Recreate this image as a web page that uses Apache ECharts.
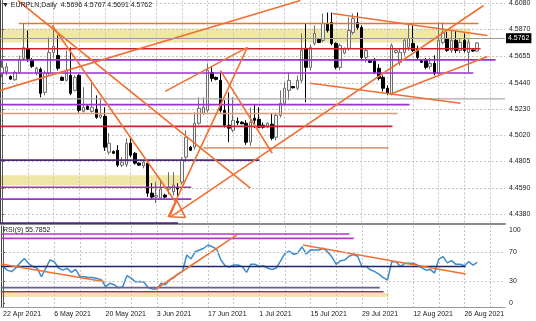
<!DOCTYPE html>
<html><head><meta charset="utf-8">
<script src="https://cdn.jsdelivr.net/npm/echarts@6/dist/echarts.min.js"></script>
<style>html,body{margin:0;padding:0;background:#fff}#c{width:536px;height:321px}</style>
</head><body><div id="c"></div><script>
// ---------------- DATA ----------------
const dates = [
'22 Apr 2021','23 Apr 2021',
'25 Apr 2021','26 Apr 2021','27 Apr 2021','28 Apr 2021','29 Apr 2021','30 Apr 2021',
'2 May 2021','3 May 2021','4 May 2021','5 May 2021','6 May 2021','7 May 2021',
'9 May 2021','10 May 2021','11 May 2021','12 May 2021','13 May 2021','14 May 2021',
'16 May 2021','17 May 2021','18 May 2021','19 May 2021','20 May 2021','21 May 2021',
'23 May 2021','24 May 2021','25 May 2021','26 May 2021','27 May 2021','28 May 2021',
'30 May 2021','31 May 2021','1 Jun 2021','2 Jun 2021','3 Jun 2021','4 Jun 2021',
'6 Jun 2021','7 Jun 2021','8 Jun 2021','9 Jun 2021','10 Jun 2021','11 Jun 2021',
'13 Jun 2021','14 Jun 2021','15 Jun 2021','16 Jun 2021','17 Jun 2021','18 Jun 2021',
'20 Jun 2021','21 Jun 2021','22 Jun 2021','23 Jun 2021','24 Jun 2021','25 Jun 2021',
'27 Jun 2021','28 Jun 2021','29 Jun 2021','30 Jun 2021','1 Jul 2021','2 Jul 2021',
'4 Jul 2021','5 Jul 2021','6 Jul 2021','7 Jul 2021','8 Jul 2021','9 Jul 2021',
'11 Jul 2021','12 Jul 2021','13 Jul 2021','14 Jul 2021','15 Jul 2021','16 Jul 2021',
'18 Jul 2021','19 Jul 2021','20 Jul 2021','21 Jul 2021','22 Jul 2021','23 Jul 2021',
'25 Jul 2021','26 Jul 2021','27 Jul 2021','28 Jul 2021','29 Jul 2021','30 Jul 2021',
'1 Aug 2021','2 Aug 2021','3 Aug 2021','4 Aug 2021','5 Aug 2021','6 Aug 2021',
'8 Aug 2021','9 Aug 2021','10 Aug 2021','11 Aug 2021','12 Aug 2021','13 Aug 2021',
'15 Aug 2021','16 Aug 2021','17 Aug 2021','18 Aug 2021','19 Aug 2021','20 Aug 2021',
'22 Aug 2021','23 Aug 2021','24 Aug 2021','25 Aug 2021','26 Aug 2021','27 Aug 2021',
'29 Aug 2021','30 Aug 2021','31 Aug 2021','1 Sep 2021','2 Sep 2021','3 Sep 2021',
'5 Sep 2021','6 Sep 2021'];

const open = [4.5516,4.5530,4.5492,4.5465,4.5524,4.5637,4.5718,4.5621,4.5516,4.5549,
4.5363,4.5516,4.5685,4.5661,4.5484,4.5460,4.5500,4.5379,4.5500,4.5210,
4.5251,4.5210,4.5227,4.5162,4.5170,4.4880,4.4885,4.4896,4.4776,4.4780,
4.4953,4.4872,4.4792,4.4770,4.4790,4.4550,4.4518,4.4510,4.4534,4.4583,
4.4560,4.4599,4.4639,4.4840,4.4921,4.4921,4.5114,4.5194,4.5218,4.5524,
4.5484,4.5460,4.5218,4.5098,4.5057,4.5130,4.5122,4.5114,4.4961,4.5154,
4.5146,4.5098,4.5082,4.5106,4.5001,4.5178,4.5275,4.5379,4.5410,4.5396,
4.5460,4.5718,4.5565,4.5758,4.5790,4.5782,4.5919,4.5927,4.5758,4.5565,
4.5680,4.5718,4.5846,4.5927,4.5887,4.5645,4.5621,4.5621,4.5557,4.5484,
4.5396,4.5355,4.5685,4.5605,4.5685,4.5726,4.5758,4.5718,4.5621,4.5621,
4.5573,4.5597,4.5516,4.5766,4.5798,4.5701,4.5782,4.5701,4.5782,4.5685,
4.5705,4.5696];
const high = [4.5621,4.5600,4.5500,4.5540,4.5660,4.5919,4.5862,4.5640,4.5570,4.5565,
4.5540,4.5806,4.5903,4.5822,4.5492,4.5701,4.5726,4.5500,4.5510,4.5404,
4.5260,4.5460,4.5339,4.5320,4.5243,4.5035,4.4895,4.4937,4.4840,4.4993,
4.5001,4.4880,4.4800,4.4816,4.4800,4.4630,4.4639,4.4660,4.4545,4.4719,
4.4719,4.4630,4.4840,4.5057,4.4930,4.5202,4.5323,4.5323,4.5597,4.5565,
4.5490,4.5524,4.5299,4.5363,4.5323,4.5160,4.5130,4.5138,4.5243,4.5259,
4.5243,4.5120,4.5120,4.5194,4.5194,4.5379,4.5444,4.5524,4.5415,4.5500,
4.5838,4.5919,4.5750,4.5903,4.5795,4.5999,4.6007,4.6007,4.5766,4.5758,
4.5725,4.5967,4.5999,4.6007,4.5903,4.5720,4.5630,4.5640,4.5590,4.5500,
4.5420,4.5758,4.5710,4.5720,4.5800,4.5919,4.5903,4.5740,4.5625,4.5640,
4.5640,4.5661,4.5927,4.5927,4.5850,4.5862,4.5862,4.5800,4.5838,4.5790,
4.5710,4.5767];
const low = [4.5484,4.5500,4.5465,4.5455,4.5510,4.5620,4.5610,4.5560,4.5500,4.5323,
4.5340,4.5500,4.5640,4.5540,4.5455,4.5450,4.5340,4.5370,4.5200,4.5200,
4.5220,4.5200,4.5150,4.5150,4.4890,4.4860,4.4865,4.4760,4.4760,4.4760,
4.4840,4.4780,4.4770,4.4750,4.4520,4.4500,4.4470,4.4494,4.4510,4.4540,
4.4530,4.4510,4.4620,4.4800,4.4890,4.4900,4.5100,4.5180,4.5200,4.5450,
4.5460,4.5200,4.5080,4.4961,4.5040,4.5100,4.5105,4.4940,4.4930,4.5074,
4.5074,4.5070,4.5074,4.4977,4.4977,4.5160,4.5259,4.5300,4.5395,4.5380,
4.5440,4.5283,4.5540,4.5742,4.5760,4.5766,4.5846,4.5742,4.5549,4.5540,
4.5670,4.5700,4.5830,4.5870,4.5620,4.5605,4.5600,4.5510,4.5460,4.5370,
4.5340,4.5339,4.5675,4.5580,4.5660,4.5700,4.5690,4.5630,4.5600,4.5550,
4.5549,4.5500,4.5500,4.5750,4.5690,4.5680,4.5680,4.5680,4.5685,4.5524,
4.5690,4.5691];
const close = [4.5565,4.5570,4.5470,4.5524,4.5629,4.5726,4.5637,4.5573,4.5557,4.5355,
4.5516,4.5685,4.5734,4.5557,4.5460,4.5540,4.5355,4.5484,4.5218,4.5243,
4.5227,4.5243,4.5162,4.5180,4.4921,4.4953,4.4872,4.4776,4.4800,4.4953,
4.4856,4.4792,4.4776,4.4800,4.4550,4.4518,4.4530,4.4583,4.4518,4.4599,
4.4615,4.4583,4.4816,4.5001,4.4896,4.5114,4.5235,4.5243,4.5540,4.5476,
4.5468,4.5218,4.5098,4.5074,4.5138,4.5118,4.5110,4.4961,4.5122,4.5138,
4.5082,4.5082,4.5114,4.4993,4.5178,4.5275,4.5396,4.5460,4.5400,4.5460,
4.5701,4.5565,4.5726,4.5838,4.5766,4.5919,4.5862,4.5758,4.5565,4.5742,
4.5718,4.5862,4.5959,4.5887,4.5645,4.5701,4.5605,4.5524,4.5476,4.5396,
4.5355,4.5742,4.5701,4.5685,4.5782,4.5798,4.5701,4.5645,4.5605,4.5565,
4.5597,4.5516,4.5782,4.5846,4.5701,4.5782,4.5701,4.5766,4.5701,4.5766,
4.5696,4.5762];

const rsi = [49.8,45,43,48,55,61,54,50,47.5,36,
47.5,59,56.6,48,45,47.5,42,46,36,36,
35,35,33.5,32,22.5,27,25,21,22,37.4,
34,29,29.5,28.3,21,19,19,27,25,31.5,
34.7,40,43,65.8,60.3,70.3,72.6,75,79.5,77,
74,59,51,49.3,52,52,49.8,42,53,53,
50,51,47.5,46,48,58,68,71,66.5,68.5,
77,67,73,72.6,72.6,75,70,63,53,58,
59,64,66.5,64,50,50,45.5,43,39.5,34.7,
31.5,56.6,56.6,50,54,54.5,54.5,52,48.5,45,
46,41,60,63.5,55,58,53,53,51,56.6,
52,55.79];

const priceTicks = [4.4380,4.4590,4.4805,4.5020,4.5230,4.5440,4.5655,4.5870,4.6080];
const rsiTicks = [0,30,70,100];
const rsiLevels = [30,70];
const lastPrice = 4.5762;
const titleText = '\u25BC EURPLN,Daily  4.5696 4.5767 4.5691 4.5762';
const rsiText = 'RSI(9) 55.7852';

// drawn objects in data space: [barFrom, priceFrom, barTo, priceTo]
const trendLines = [
  [3.7,4.6104,58.0,4.4590],[11.7,4.5903,40.7,4.4470],[39.3,4.4357,112.5,4.6064],
  [38.8,4.4357,57.3,4.5726],[38.1,4.5371,57.3,4.5726],[-0.5,4.5379,69.7,4.6104],
  [51.0,4.5540,63.1,4.4872],[77.2,4.5999,113.4,4.5822],[72.0,4.5436,107.1,4.5275],
  [90.7,4.5347,113.4,4.5653]];
const triangle = [[39.1,4.4359],[42.8,4.4354],[40.8,4.4494],[39.1,4.4359]];
// levels: [barFrom, barTo, price]
const orangeLevels = [[3.9,111.3,4.5919]];
const redLevels = [[-0.5,111.8,4.5715],[-0.5,91.2,4.5089]];
const purpleLevels = [[-0.5,115.3,4.5625],[-0.5,110.1,4.5519],[-0.5,95.2,4.5264],[-0.5,44.2,4.4598],[-0.5,44.2,4.4502]];
const darkPurpleLevels = [[-0.5,60.1,4.4816],[-0.5,41.1,4.4308]];
const tanLevels = [[-0.5,92.4,4.5192],[47.0,90.3,4.4915]];
const fiboLevels = [[-0.5,117.5,4.5311]];
const fiboLabel = '100.0';
// zones: [barFrom, barTo, priceLow, priceHigh]
const zones = [[-0.5,109.4,4.5766,4.5879],[-0.5,42.3,4.4614,4.4695]];
// RSI panel objects
const rsiTrendLines = [[-0.5,53.4,23.8,29.2],[35.8,19.2,54.9,94.1],[70.2,79.5,108.3,39.7]];
const rsiPurpleLevels = [[-0.5,81.1,94.5],[-0.5,82.1,88.6]];
const rsiNavyLevels = [[-0.5,108.3,50]];
const rsiGrayLevels = [[-0.5,88.2,21]];
const rsiRedLevels = [[-0.5,89.1,15.5]];
const rsiZones = [[-0.5,90.3,8.2,13.7]];

// ---------------- STYLE ----------------
const FONT = 'Liberation Sans';
const C = {orange:'#f07033', red:'#c8262a', purple:'#9a32cd', darkPurple:'#4b2a7d', tan:'#dc9c7c',
  gray:'#a8a8a8', yellow:'#efe7a6', navy:'#1c2470', rsiPurple:'#b13bc6', grayPurple:'#6b5f86', blue:'#3d8ccc',
  grid:'#c4c4c4'};
const LW = 1.6;
const nCat = dates.length;

const candleData = open.map((o,i)=>[o, close[i], low[i], high[i]]);

function levels(list, color, xi, yi, w) {
  return list.map(([a,b,p]) => ({type:'line', xAxisIndex:xi, yAxisIndex:yi, data:[[a,p],[b,p]],
    symbol:'none', lineStyle:{color:color, width:w||LW}, silent:true, z:4, animation:false}));
}
function trends(list, color, xi, yi, w) {
  return list.map(([a,p,b,q]) => ({type:'line', xAxisIndex:xi, yAxisIndex:yi, data:[[a,p],[b,q]],
    symbol:'none', lineStyle:{color:color, width:w||LW}, silent:true, z:4, animation:false}));
}
function zoneSeries(list, color, xi, yi) {
  return {type:'custom', xAxisIndex:xi, yAxisIndex:yi, data:list, silent:true, z:-1, animation:false,
    encode:{x:[0,1], y:[2,3]},
    renderItem:(params, api)=>{
      const p0 = api.coord([api.value(0), api.value(3)]);
      const p1 = api.coord([api.value(1), api.value(2)]);
      return {type:'rect', shape:{x:p0[0], y:p0[1], width:p1[0]-p0[0], height:p1[1]-p0[1]}, style:{fill:color}};
    }};
}

const gridLine = {show:true, lineStyle:{color:C.grid, type:[2,2], width:1}};
const lblStyle = {fontSize:7, fontFamily:FONT, color:'#1a1a1a'};

const option = {
  animation:false,
  backgroundColor:'#ffffff',
  title:[
    {text:titleText, left:2, top:2, padding:0, textStyle:{fontSize:7, fontWeight:'normal', fontFamily:FONT, color:'#222'}},
    {text:rsiText, left:3, top:227, padding:0, textStyle:{fontSize:7, fontWeight:'normal', fontFamily:FONT, color:'#222'}}
  ],
  grid:[
    {left:0, right:31, top:0, height:224},
    {left:0, right:31, top:226, height:81}
  ],
  xAxis:[
    {type:'category', gridIndex:0, data:dates, boundaryGap:true,
      axisLine:{show:true, onZero:false, lineStyle:{color:'#8c8c8c', width:2}}, axisTick:{show:false}, axisLabel:{show:false},
      splitLine:Object.assign({interval:5, alignWithLabel:true}, gridLine)},
    {type:'category', gridIndex:1, data:dates, boundaryGap:true,
      axisLine:{show:true, onZero:false, lineStyle:{color:'#9a9a9a', width:1}}, axisTick:{show:false},
      axisLabel:Object.assign({show:true, interval:11, align:'left', margin:4}, lblStyle),
      splitLine:Object.assign({interval:5, alignWithLabel:true}, gridLine)},
    {type:'value', gridIndex:0, min:-0.5, max:nCat-0.5, show:false},
    {type:'value', gridIndex:1, min:-0.5, max:nCat-0.5, show:false}
  ],
  yAxis:[
    {type:'value', gridIndex:0, position:'right', min:4.4301, max:4.6104,
      axisLine:{show:true, lineStyle:{color:'#5a5a5a'}},
      axisTick:{show:true, length:2, customValues:priceTicks, lineStyle:{color:'#5a5a5a'}},
      axisLabel:Object.assign({customValues:priceTicks, margin:4, formatter:v=>Number(v).toFixed(4)}, lblStyle),
      splitLine:gridLine},
    {type:'value', gridIndex:1, position:'right', min:-5.5, max:105.5,
      axisLine:{show:true, lineStyle:{color:'#5a5a5a'}},
      axisTick:{show:true, length:2, customValues:rsiTicks, lineStyle:{color:'#5a5a5a'}},
      axisLabel:Object.assign({customValues:rsiTicks, margin:4}, lblStyle),
      splitLine:{show:false}},
    {type:'value', gridIndex:0, position:'left', min:4.4301, max:4.6104,
      axisLine:{show:true, lineStyle:{color:'#404040'}}, axisTick:{show:false}, axisLabel:{show:false}, splitLine:{show:false}},
    {type:'value', gridIndex:1, position:'left', min:-5.5, max:105.5,
      axisLine:{show:true, lineStyle:{color:'#404040'}}, axisTick:{show:false}, axisLabel:{show:false}, splitLine:{show:false}}
  ],
  series:[
    zoneSeries(zones, C.yellow, 2, 0),
    zoneSeries(rsiZones, C.yellow, 3, 1),
    {type:'candlestick', xAxisIndex:0, yAxisIndex:0, data:candleData, barWidth:3, z:2,
      itemStyle:{color:'#f4f4f4', color0:'#000000', borderColor:'#6e6e6e', borderColor0:'#000000', borderWidth:1},
      markLine:{silent:true, symbol:['none','none'], animation:false,
        lineStyle:{color:'#9a9a9a', type:'solid', width:1},
        label:{position:'end', formatter:lastPrice.toFixed(4), backgroundColor:'#000', color:'#fff',
          fontSize:7, fontFamily:FONT, padding:[2,2,1,2], distance:1},
        data:[{yAxis:lastPrice}]}},
    ...levels(fiboLevels, C.gray, 2, 0, 1.2),
    {type:'scatter', xAxisIndex:2, yAxisIndex:0, data:fiboLevels.map(l=>[l[1], l[2]]), symbolSize:1, silent:true,
      itemStyle:{opacity:0}, z:5,
      label:{show:true, formatter:fiboLabel, position:'top', align:'right', distance:1, offset:[-2,0],
        fontSize:7, fontFamily:FONT, color:'#8a8a8a'}},
    ...levels(orangeLevels, C.orange, 2, 0),
    ...levels(redLevels, C.red, 2, 0),
    ...levels(purpleLevels, C.purple, 2, 0),
    ...levels(darkPurpleLevels, C.darkPurple, 2, 0),
    ...levels(tanLevels, C.tan, 2, 0),
    ...trends(trendLines, C.orange, 2, 0),
    {type:'line', xAxisIndex:2, yAxisIndex:0, data:triangle, symbol:'none', silent:true, z:4,
      lineStyle:{color:C.orange, width:LW}},
    // RSI panel
    {type:'line', xAxisIndex:1, yAxisIndex:1, data:rsi, symbol:'none', silent:true, z:3,
      lineStyle:{color:C.blue, width:1.5},
      markLine:{silent:true, symbol:['none','none'], animation:false, label:{show:false},
        lineStyle:{color:C.grid, type:[2,2], width:1}, data:rsiLevels.map(v=>({yAxis:v}))}},
    ...levels(rsiPurpleLevels, C.rsiPurple, 3, 1),
    ...levels(rsiNavyLevels, C.navy, 3, 1),
    ...levels(rsiGrayLevels, C.grayPurple, 3, 1),
    ...levels(rsiRedLevels, C.red, 3, 1),
    ...trends(rsiTrendLines, C.orange, 3, 1)
  ]
};

const chart = echarts.init(document.getElementById('c'), null, {renderer:'canvas'});
chart.setOption(option);
</script></body></html>
